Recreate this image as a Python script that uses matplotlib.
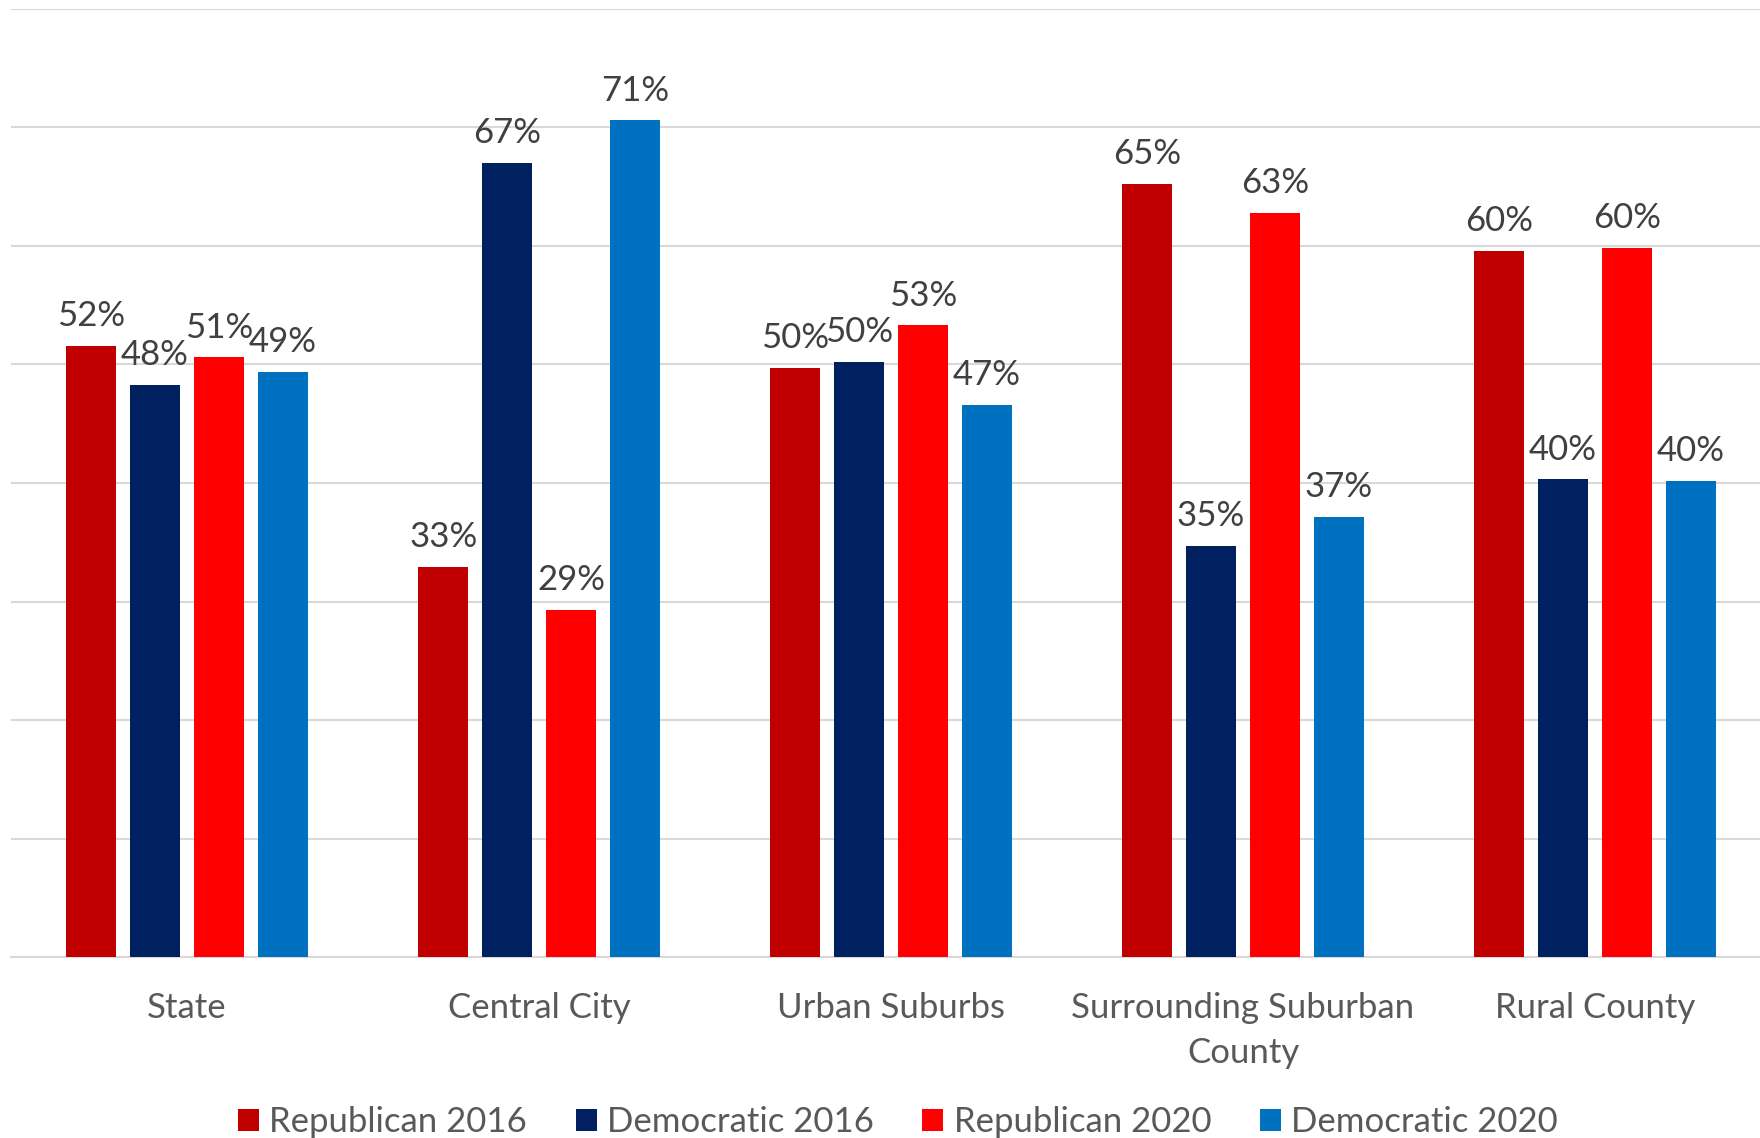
import numpy as np
import matplotlib
matplotlib.use("Agg")
from matplotlib import pyplot as plt

plt.rcParams['font.family'] = ['Lato', 'DejaVu Sans']

categories = ["State", "Central City", "Urban Suburbs", "Surrounding Suburban\nCounty", "Rural County"]
series_names = ["Republican 2016", "Democratic 2016", "Republican 2020", "Democratic 2020"]
rep_2016 = [51.6, 32.9, 49.7, 65.2, 59.6]
dem_2016 = [48.3, 67.0, 50.2, 34.7, 40.3]
rep_2020 = [50.6, 29.3, 53.3, 62.8, 59.8]
dem_2020 = [49.4, 70.6, 46.6, 37.1, 40.2]
colors = ["#C00000", "#002060", "#FF0000", "#0070C0"]

fig = plt.figure(figsize=(17.6, 11.38), dpi=100)
ax = fig.add_axes([11/1760, 1-957/1138, (1771-11)/1760, (957-9)/1138])

x = np.arange(len(categories))
slot = 0.1815
width = 0.143
all_series = [rep_2016, dem_2016, rep_2020, dem_2020]
for i, vals in enumerate(all_series):
    pos = x + (i - 1.5)*slot
    ax.bar(pos, vals, width, color=colors[i], label=series_names[i], zorder=3)
    for xp, v in zip(pos, vals):
        ax.annotate("%d%%" % round(v), (xp, v), xytext=(0, 10), textcoords="offset points",
                    ha="center", va="bottom", fontsize=25, color="#404040")

ax.set_xlim(-0.5, 4.5)
ax.set_ylim(0, 80)
ax.set_yticks(np.arange(0, 81, 10))
ax.yaxis.grid(True, color="#D9D9D9", linewidth=1.5, zorder=0)
ax.set_yticklabels([])
ax.tick_params(axis="y", length=0)
ax.set_xticks(x)
ax.set_xticklabels(categories, fontsize=25, color="#595959", linespacing=1.5)
ax.tick_params(axis="x", length=0, pad=25)
for s in ["top", "right", "left"]:
    ax.spines[s].set_visible(False)
ax.spines["bottom"].set_color("#D9D9D9")
ax.spines["bottom"].set_linewidth(1.5)

fig.legend(loc="center", bbox_to_anchor=(898/1760, 1-1122/1138), ncol=4, frameon=False,
           fontsize=25, handlelength=0.6, handleheight=0.6, handletextpad=0.3,
           columnspacing=1.4, labelcolor="#595959")

fig.savefig("out.png", dpi=100)
